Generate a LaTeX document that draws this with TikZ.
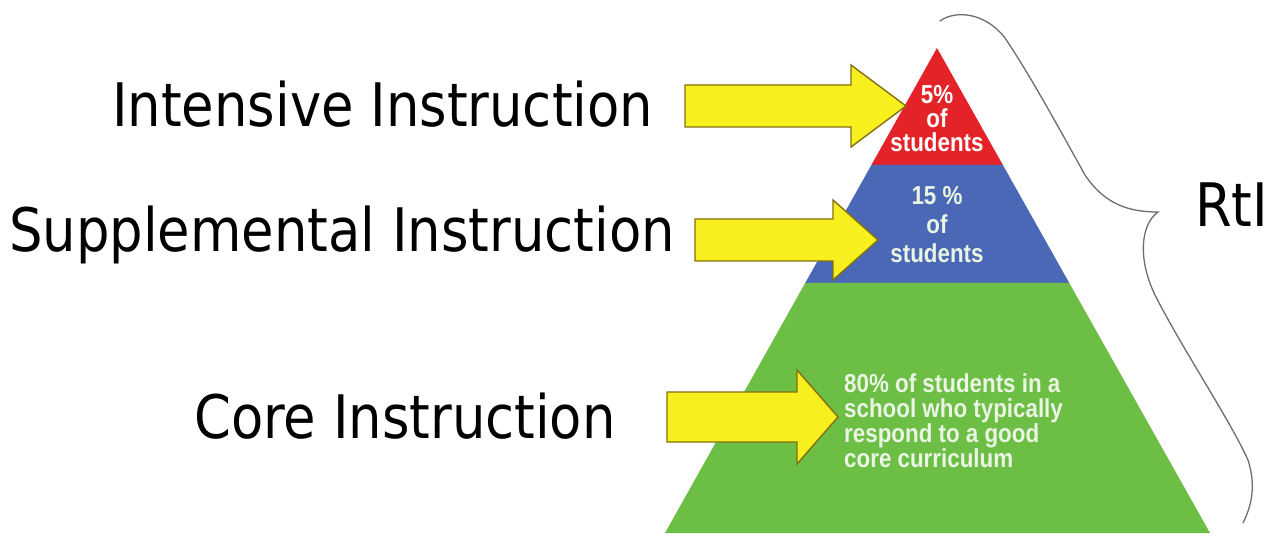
\documentclass[tikz,border=0pt]{standalone}
\usepackage{fontspec}
\usepackage{xcolor}
\usepackage{tikz}
\usetikzlibrary{calc}
\usetikzlibrary{arrows,shapes,positioning}

\newfontfamily\labelfont{DejaVu Sans}[FakeStretch=0.88]
\newfontfamily\tierfont{Liberation Sans}[FakeStretch=0.86]

\definecolor{tierred}{HTML}{E42328}
\definecolor{tierblue}{HTML}{4A68B5}
\definecolor{tiergreen}{HTML}{6CBE45}
\definecolor{arrowfill}{HTML}{F7EF1E}
\definecolor{arrowline}{HTML}{85700F}
\definecolor{bracegray}{HTML}{6E6E6E}
\definecolor{tiertext}{HTML}{EAF5E4}

\tikzset{
    lbl/.style={inner sep=0pt, font=\labelfont\fontsize{60}{60}\selectfont},
    tier/.style={inner sep=0pt, text=tiertext, font=\tierfont\bfseries\fontsize{26}{24}\selectfont},
    yarrow/.style={fill=arrowfill, draw=arrowline, line width=1.4pt, line join=miter},
    bracepath/.style={draw=bracegray, line width=1.3pt, line cap=round}
}

\begin{document}
\begin{tikzpicture}[x=1pt,y=-1pt]
        \useasboundingbox[fill=white] (0,0) rectangle (1283,537);

        % Pyramid tiers
        \coordinate (apex) at (937,48);
        \coordinate (bl) at (665,533);
        \coordinate (br) at (1210,533);
        \fill[tierred] (apex) -- ($(apex)!0.2412!(bl)$) -- ($(apex)!0.2412!(br)$) -- cycle;
        \fill[tierblue] ($(apex)!0.2412!(bl)$) -- ($(apex)!0.4845!(bl)$)
            -- ($(apex)!0.4845!(br)$) -- ($(apex)!0.2412!(br)$) -- cycle;
        \fill[tiergreen] ($(apex)!0.4845!(bl)$) -- (bl) -- (br) -- ($(apex)!0.4845!(br)$) -- cycle;

        % Labels on the left
        \foreach \name/\x/\y/\txt in {
            intensive/112/127/Intensive Instruction,
            supplemental/9/252/Supplemental Instruction,
            core/194/438/Core Instruction
        } {
            \node[lbl, anchor=base west] (\name) at (\x,\y) {\txt};
        }
        \node[lbl, anchor=base west] (rti) at (1195,227) {RtI};

        % Block arrows
        \foreach \xa/\xb/\xc/\yc/\s/\h in {
            685/851/906/106/21/41,
            695/833/878/240/21/40,
            667/797/838/417/25/47
        } {
            \draw[yarrow] (\xa,\yc-\s) -- (\xb,\yc-\s) -- (\xb,\yc-\h) -- (\xc,\yc)
                -- (\xb,\yc+\h) -- (\xb,\yc+\s) -- (\xa,\yc+\s) -- cycle;
        }

        % Tier texts
        \node[tier, text=white, align=center, anchor=north] (redtxt) at (937,85)
            {5\%\\of\\students};
        \node[tier, align=center, anchor=north, font=\tierfont\bfseries\fontsize{26}{29}\selectfont]
            (bluetxt) at (937,186) {15 \%\\of\\students};
        \node[tier, align=left, anchor=north west,
            font=\tierfont\bfseries\fontsize{26}{25}\selectfont] (greentxt) at (844,373)
            {80\% of students in a\\school who typically\\respond to a good\\core curriculum};

        % Brace
        \draw[bracepath] (940,21) .. controls (955,10) and (985,12) .. (1005,38)
            .. controls (1030,75) and (1060,130) .. (1085,175)
            .. controls (1105,205) and (1130,212) .. (1158,212)
            .. controls (1140,225) and (1138,260) .. (1155,295)
            .. controls (1180,345) and (1230,420) .. (1248,460)
            .. controls (1256,485) and (1252,505) .. (1243,523);
    \end{tikzpicture}
\end{document}
